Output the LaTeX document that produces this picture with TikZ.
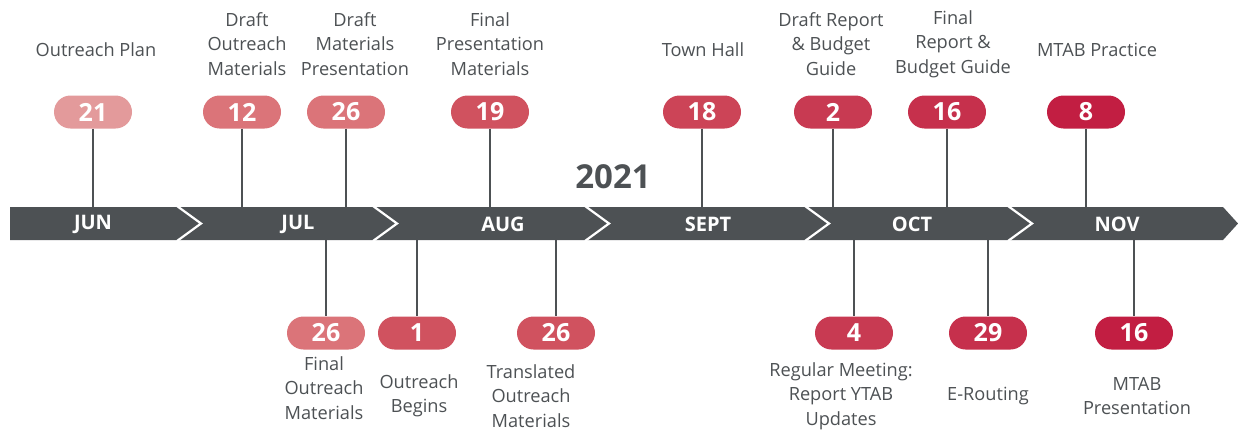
\documentclass[tikz,border=0pt]{standalone}
\usepackage{fontspec}
\setmainfont{Open Sans}
\usetikzlibrary{shapes.misc}
\definecolor{band}{HTML}{4D5154}
\definecolor{txt}{HTML}{4D5154}
\definecolor{cA}{HTML}{E39A9B}
\definecolor{cB}{HTML}{DB7479}
\definecolor{cC}{HTML}{D65F69}
\definecolor{cD}{HTML}{D0525F}
\definecolor{cE}{HTML}{CC4457}
\definecolor{cF}{HTML}{C83A52}
\definecolor{cG}{HTML}{C6304C}
\definecolor{cH}{HTML}{C21E42}
\begin{document}
\begin{tikzpicture}[x=1pt,y=-1pt,
  pill/.style={rounded rectangle, minimum width=78pt, minimum height=33pt, inner sep=0pt,
    text=white, font=\fontsize{25}{25}\selectfont\bfseries},
  lbl/.style={align=center, text=txt, inner sep=0pt, font=\fontsize{18.2}{24.5}\selectfont},
  month/.style={text=white, inner sep=0pt, font=\fontsize{20}{20}\selectfont\bfseries},
  tick/.style={draw=band, line width=2pt}]
\useasboundingbox (0,0) rectangle (1238,431);
% band
\fill[band] (10,207) -- (1223,207) -- (1238,223.5) -- (1223,240) -- (10,240) -- cycle;
\foreach \a in {177,373,585,805,1008}
  \draw[white, line width=2.2pt] (\a,206) -- (\a+24,223.5) -- (\a,241);
\node[month] (mjun) at (93,224.5) {JUN};
\node[month] (mjul) at (298,224.5) {JUL};
\node[month] (maug) at (503,224.5) {AUG};
\node[month] (msep) at (708,224.5) {SEPT};
\node[month] (moct) at (912,224.5) {OCT};
\node[month] (mnov) at (1117,224.5) {NOV};
\node[text=txt, inner sep=0pt, font=\fontsize{33}{33}\selectfont\bfseries] (year) at (613,177) {2021};
% top pills
\node[pill, fill=cA] (t1) at (93,112) {21};
\node[pill, fill=cB] (t2) at (242,112) {12};
\node[pill, fill=cB] (t3) at (346,112) {26};
\node[pill, fill=cD] (t4) at (490,112) {19};
\node[pill, fill=cE] (t5) at (702,112) {18};
\node[pill, fill=cF] (t6) at (833,112) {2};
\node[pill, fill=cG] (t7) at (947,112) {16};
\node[pill, fill=cH] (t8) at (1086,112) {8};
% bottom pills
\node[pill, fill=cB] (b1) at (326,333) {26};
\node[pill, fill=cD] (b2) at (417,333) {1};
\node[pill, fill=cD] (b3) at (556,333) {26};
\node[pill, fill=cF] (b4) at (854,333) {4};
\node[pill, fill=cG] (b5) at (988,333) {29};
\node[pill, fill=cH] (b6) at (1134,333) {16};
% band anchor coordinates
\foreach \n/\x in {t1/93,t2/242,t3/346,t4/490,t5/702,t6/833,t7/947,t8/1086}
  \coordinate (\n e) at (\x,207);
\foreach \n/\x in {b1/326,b2/417,b3/556,b4/854,b5/988,b6/1134}
  \coordinate (\n e) at (\x,240);
\foreach \n in {t1,t2,t3,t4,t5,t6,t7,t8}
  \draw[tick] (\n.south) -- (\n e);
\foreach \n in {b1,b2,b3,b4,b5,b6}
  \draw[tick] (\n e) -- (\n.north);
% top labels
\node[lbl] (l1) at (96,50) {Outreach Plan};
\node[lbl] (l2) at (247,44) {Draft\\Outreach\\Materials};
\node[lbl] (l3) at (355,44) {Draft\\Materials\\Presentation};
\node[lbl] (l4) at (490,44) {Final\\Presentation\\Materials};
\node[lbl] (l5) at (703,50) {Town Hall};
\node[lbl] (l6) at (831,44) {Draft Report\\\& Budget\\Guide};
\node[lbl] (l7) at (953,44) {Final\\Report \&\\Budget Guide};
\node[lbl] (l8) at (1097,50) {MTAB Practice};
% bottom labels
\node[lbl] (m1) at (324,388) {Final\\Outreach\\Materials};
\node[lbl] (m2) at (419,396) {Outreach\\Begins};
\node[lbl] (m3) at (531,396) {Translated\\Outreach\\Materials};
\node[lbl] (m4) at (841,396) {Regular Meeting:\\Report YTAB\\Updates};
\node[lbl] (m5) at (988,396) {E-Routing};
\node[lbl] (m6) at (1137,396) {MTAB\\Presentation};
\end{tikzpicture}
\end{document}
